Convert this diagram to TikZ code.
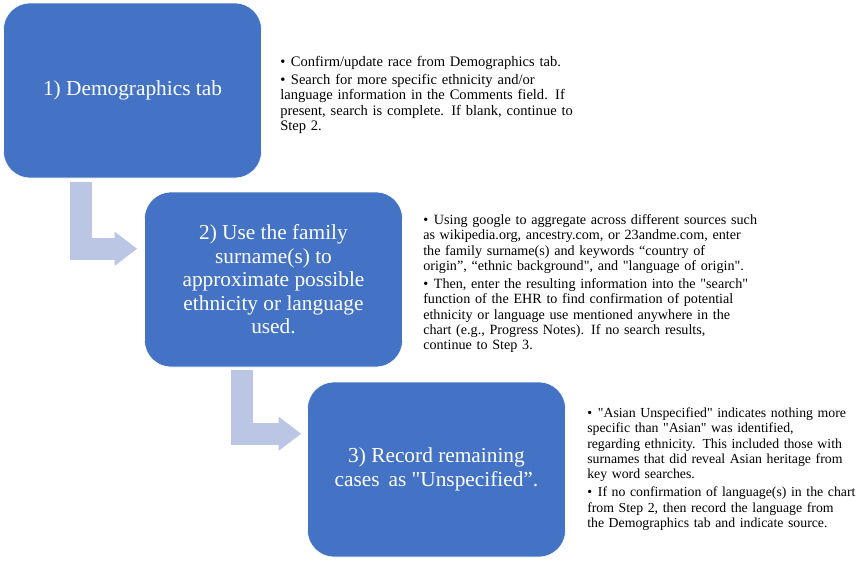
\documentclass[tikz,border=0pt]{standalone}
\usepackage{fontspec}
\setmainfont{Liberation Serif}[Ligatures=TeXOff]
\usepackage{xcolor}
\usetikzlibrary{arrows.meta,calc}
\definecolor{boxblue}{RGB}{68,114,196}
\definecolor{arrowblue}{RGB}{186,198,228}
\newcommand{\bpoint}[1]{\par\hangindent=8pt\hangafter=1\noindent\makebox[8pt][l]{\textbullet}#1\par\vspace{2pt}}
\tikzset{
  stepbox/.style={fill=boxblue, draw=white, thin, rounded corners=20pt, minimum width=193.5pt, minimum height=131.25pt, align=center, text=white, font=\fontsize{16}{17.6}\selectfont},
  notetext/.style={anchor=north west, inner sep=0pt, align=left, font=\fontsize{#1}{11.5}\selectfont},
  notetext/.default=10.8,
  flowarrow/.style={draw=arrowblue, line width=16.5pt, -{Triangle[width=24.5pt, length=17pt]}}
}
\begin{document}
\begin{tikzpicture}[x=0.75pt, y=-0.75pt]
\useasboundingbox (0,0) rectangle (861,561);
\node[stepbox] (d1) at (132.5,90.5) {1) Demographics tab};
\node[stepbox] (d2) at (273.5,279.5) {2) Use the family\\surname(s) to\\approximate possible\\ethnicity or language\\used.};
\node[stepbox] (d3) at (436.5,469.5) {3) Record remaining\\cases\, as "Unspecified”.};
\node[notetext=10.9, text width=255pt] (n1) at (280,51) {\bpoint{Confirm/update race from Demographics tab.}\bpoint{Search for more specific ethnicity and/or\\language information in the Comments field. If\\present, search is complete. If blank, continue to\\Step 2.}};
\node[notetext=10.6, text width=275pt] (n2) at (423,209) {\bpoint{Using google to aggregate across different sources such\\as wikipedia.org, ancestry.com, or 23andme.com, enter\\the family surname(s) and keywords “country of\\origin”, “ethnic background", and "language of origin".}\bpoint{Then, enter the resulting information into the "search"\\function of the EHR to find confirmation of potential\\ethnicity or language use mentioned anywhere in the\\chart (e.g., Progress Notes). If no search results,\\continue to Step 3.}};
\node[notetext=10.35, text width=225pt] (n3) at (587,402) {\bpoint{"Asian Unspecified" indicates nothing more\\specific than "Asian" was identified,\\regarding ethnicity. This included those with\\surnames that did reveal Asian heritage from\\key word searches.}\bpoint{If no confirmation of language(s) in the chart\\from Step 2, then record the language from\\the Demographics tab and indicate source.}};
\coordinate (a1s) at ($(d1.south west)+(78,4)$);
\coordinate (a1e) at ($(d2.north west)+(-7,57)$);
\coordinate (a2s) at ($(d2.south west)+(98,3)$);
\coordinate (a2e) at ($(d3.north west)+(-6,52)$);
\draw[flowarrow] (a1s) |- (a1e);
\draw[flowarrow] (a2s) |- (a2e);
\end{tikzpicture}
\end{document}
